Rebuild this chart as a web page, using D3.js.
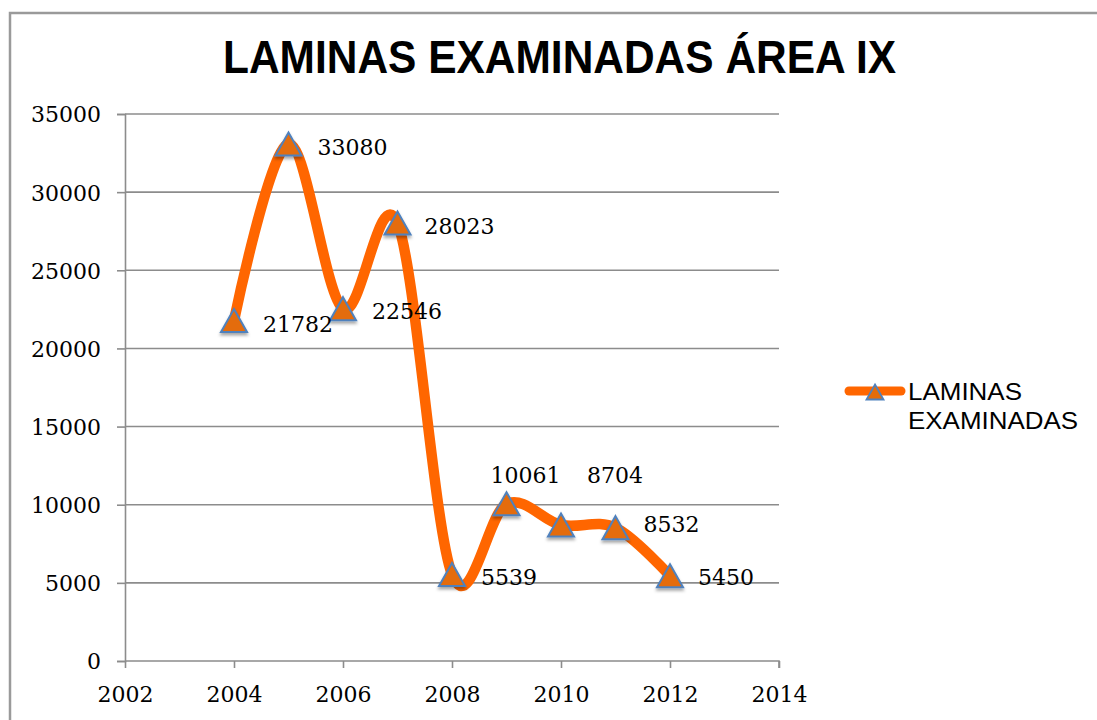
<!DOCTYPE html>
<html>
<head>
<meta charset="utf-8">
<script src="https://cdn.jsdelivr.net/npm/d3@7"></script>
<style>
  body { margin: 0; background: #fff; }
  svg { display: block; }
</style>
</head>
<body>
<svg id="chart" width="1097" height="720"></svg>
<script>
// chart values
var years = [2004, 2005, 2006, 2007, 2008, 2009, 2010, 2011, 2012];
var laminas = [21782, 33080, 22546, 28023, 5539, 10061, 8704, 8532, 5450];
var xTicks = [2002, 2004, 2006, 2008, 2010, 2012, 2014];
var yTicks = [0, 5000, 10000, 15000, 20000, 25000, 30000, 35000];
var seriesName = ["LAMINAS", "EXAMINADAS"];
var titleText = "LAMINAS EXAMINADAS ÁREA IX";

// where Excel dropped each data label, relative to its point
var labelNudge = [[29, 11], [29, 11], [29, 10], [27, 11], [29, 11],
                  [-16, -21], [26, -42], [28, 4], [28, 9]];

var svg = d3.select("#chart");
var grey = "#8c8c8c";
var serif = "'DejaVu Serif', serif";
var sans = "'Liberation Sans', Arial, sans-serif";

var x = d3.scaleLinear().domain([2002, 2014]).range([125, 779]);
var y = d3.scaleLinear().domain([0, 35000]).range([661, 114]);

// drop shadow under the markers
var defs = svg.append("defs");
var f = defs.append("filter").attr("id", "shadow")
    .attr("x", "-50%").attr("y", "-50%").attr("width", "200%").attr("height", "200%");
f.append("feDropShadow").attr("dx", 0).attr("dy", 2.5)
    .attr("stdDeviation", 1.6).attr("flood-color", "#000").attr("flood-opacity", 0.35);

// outer chart border (runs off the right and bottom)
svg.append("path")
    .attr("d", "M10,725 L10,13 L1102,13")
    .attr("fill", "none").attr("stroke", "#9a9a9a").attr("stroke-width", 2.5);

// title
svg.append("text")
    .attr("x", 223).attr("y", 73)
    .attr("textLength", 673).attr("lengthAdjust", "spacingAndGlyphs")
    .attr("font-family", sans).attr("font-weight", "bold").attr("font-size", 46)
    .attr("fill", "#000")
    .text(titleText);

// horizontal gridlines
svg.append("g").selectAll("line").data(yTicks.slice(1)).join("line")
    .attr("x1", x(2002)).attr("x2", x(2014))
    .attr("y1", function (d) { return y(d); }).attr("y2", function (d) { return y(d); })
    .attr("stroke", grey).attr("stroke-width", 1.6);

// y axis
var yAxis = d3.axisLeft(y).tickValues(yTicks).tickSize(8).tickPadding(16)
    .tickFormat(d3.format("d"));
var yg = svg.append("g").attr("transform", "translate(" + x(2002) + ",0)").call(yAxis);
yg.select(".domain").attr("stroke", grey).attr("stroke-width", 1.6);
yg.selectAll(".tick line").attr("stroke", grey).attr("stroke-width", 1.6);
yg.selectAll(".tick text").attr("font-family", serif).attr("font-size", 22)
    .attr("fill", "#000").attr("dy", "0.36em");

// x axis
var xAxis = d3.axisBottom(x).tickValues(xTicks).tickSize(7).tickPadding(18)
    .tickFormat(d3.format("d"));
var xg = svg.append("g").attr("transform", "translate(0," + y(0) + ")").call(xAxis);
xg.select(".domain").attr("stroke", grey).attr("stroke-width", 1.6)
    .attr("d", "M" + x(2002) + ",0H" + x(2014) + "V7");
xg.selectAll(".tick line").attr("stroke", grey).attr("stroke-width", 1.6);
xg.selectAll(".tick text").attr("font-family", serif).attr("font-size", 22)
    .attr("fill", "#000").attr("dy", "0.71em");

var pts = years.map(function (yr, i) { return [yr, laminas[i]]; });

// smoothed line
var line = d3.line()
    .x(function (d) { return x(d[0]); })
    .y(function (d) { return y(d[1]); })
    .curve(d3.curveCardinal.tension(0));

svg.append("path").datum(pts)
    .attr("d", line)
    .attr("fill", "none").attr("stroke", "#ff6600").attr("stroke-width", 10.5)
    .attr("stroke-linecap", "round").attr("stroke-linejoin", "round");

function tri(w, h) {
    return "M0," + (-h / 2) + "L" + (w / 2) + "," + (h / 2) + "L" + (-w / 2) + "," + (h / 2) + "Z";
}

// markers
svg.append("g").selectAll("path").data(pts).join("path")
    .attr("d", tri(26, 23))
    .attr("transform", function (d) { return "translate(" + x(d[0]) + "," + y(d[1]) + ")"; })
    .attr("fill", "#e46c0a").attr("stroke", "#4f81bd").attr("stroke-width", 2)
    .attr("stroke-linejoin", "miter")
    .attr("filter", "url(#shadow)");

// data labels
svg.append("g").selectAll("text").data(pts).join("text")
    .attr("x", function (d, i) { return x(d[0]) + labelNudge[i][0]; })
    .attr("y", function (d, i) { return y(d[1]) + labelNudge[i][1]; })
    .attr("font-family", serif).attr("font-size", 22).attr("fill", "#000")
    .text(function (d) { return d[1]; });

// legend
var lg = svg.append("g");
lg.append("line").attr("x1", 849).attr("x2", 901).attr("y1", 391).attr("y2", 391)
    .attr("stroke", "#ff6600").attr("stroke-width", 9).attr("stroke-linecap", "round");
lg.append("path").attr("d", tri(17, 15))
    .attr("transform", "translate(875,392)")
    .attr("fill", "#e46c0a").attr("stroke", "#4f81bd").attr("stroke-width", 1.8);
lg.selectAll("text").data(seriesName).join("text")
    .attr("x", 908)
    .attr("y", function (d, i) { return 400 + i * 28.5; })
    .attr("textLength", function (d, i) { return i === 0 ? 114 : 170; })
    .attr("lengthAdjust", "spacingAndGlyphs")
    .attr("font-family", sans).attr("font-size", 24).attr("fill", "#000")
    .text(function (d) { return d; });
</script>
</body>
</html>
